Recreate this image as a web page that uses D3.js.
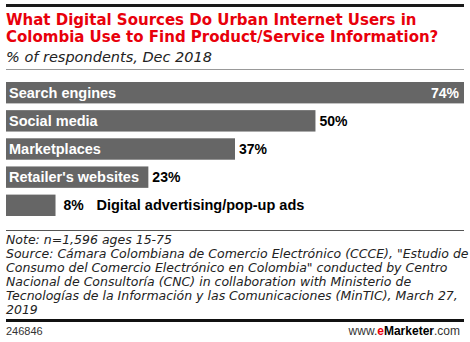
<!DOCTYPE html>
<html>
<head>
<meta charset="utf-8">
<script src="https://cdn.jsdelivr.net/npm/d3@7"></script>
<style>
  body { margin: 0; background: #fff; }
  svg { display: block; font-family: "Liberation Sans", Arial, sans-serif; }
</style>
</head>
<body>
<div id="chart"></div>
<script>
// Data
const categories = ["Search engines", "Social media", "Marketplaces", "Retailer's websites", "Digital advertising/pop-up ads"];
const values = [74, 50, 37, 23, 8];

const titleLines = [
    "What Digital Sources Do Urban Internet Users in",
    "Colombia Use to Find Product/Service Information?"
];
const subtitle = "% of respondents, Dec 2018";
const noteLines = [
    "Note: n=1,596 ages 15-75",
    "Source: Cámara Colombiana de Comercio Electrónico (CCCE), \"Estudio de",
    "Consumo del Comercio Electrónico en Colombia\" conducted by Centro",
    "Nacional de Consultoría (CNC) in collaboration with Ministerio de",
    "Tecnologías de la Información y las Comunicaciones (MinTIC), March 27,",
    "2019"
];
const chartId = "246846";

const data = categories.map((c, i) => ({ label: c, value: values[i] }));

const W = 470;
const H = 342;
const left = 6;
const right = 464;
const wide = "'DejaVu Sans', Verdana, sans-serif";

const svg = d3.select("#chart")
    .append("svg")
    .attr("width", W)
    .attr("height", H);

// Header
svg.append("rect")
    .attr("x", left).attr("y", 4)
    .attr("width", right - left).attr("height", 3)
    .attr("fill", "#1a1a1a");

svg.selectAll("text.title")
    .data(titleLines)
    .join("text")
    .attr("class", "title")
    .attr("x", left)
    .attr("y", (d, i) => 25 + i * 17)
    .attr("fill", "#e8000b")
    .attr("font-family", wide)
    .attr("font-size", 15)
    .attr("font-weight", "bold")
    .text(d => d);

svg.append("text")
    .attr("x", left)
    .attr("y", 62)
    .attr("font-family", wide)
    .attr("font-size", 14.5)
    .attr("font-style", "italic")
    .attr("fill", "#222")
    .text(subtitle);

svg.append("rect")
    .attr("x", left).attr("y", 69)
    .attr("width", right - left).attr("height", 1)
    .attr("fill", "#999");

// Scales
const xScale = d3.scaleLinear()
    .domain([0, d3.max(values)])
    .range([left, right]);

const yScale = d3.scaleBand()
    .domain(categories)
    .range([82, 216])
    .paddingInner(0.24)
    .paddingOuter(0);

const bars = svg.append("g");

bars.selectAll("rect")
    .data(data)
    .join("rect")
    .attr("x", xScale(0))
    .attr("y", d => yScale(d.label))
    .attr("width", d => xScale(d.value) - xScale(0))
    .attr("height", yScale.bandwidth())
    .attr("fill", "#666");

// short bars get their label outside
const fits = d => d.value >= 20;
const maxVal = d3.max(values);

bars.selectAll("text.cat")
    .data(data)
    .join("text")
    .attr("class", "cat")
    .attr("x", d => fits(d) ? xScale(0) + 3 : xScale(d.value) + 41)
    .attr("y", d => yScale(d.label) + yScale.bandwidth() / 2 + 5)
    .attr("font-size", 14.5)
    .attr("font-weight", "bold")
    .attr("fill", d => fits(d) ? "#fff" : "#000")
    .text(d => d.label);

bars.selectAll("text.val")
    .data(data)
    .join("text")
    .attr("class", "val")
    .attr("x", d => d.value === maxVal ? xScale(d.value) - 5 : xScale(d.value) + (fits(d) ? 4 : 8))
    .attr("y", d => yScale(d.label) + yScale.bandwidth() / 2 + 5)
    .attr("text-anchor", d => d.value === maxVal ? "end" : "start")
    .attr("font-size", 14)
    .attr("font-weight", "bold")
    .attr("fill", d => d.value === maxVal ? "#fff" : "#000")
    .text(d => d.value + "%");

// Footer
svg.append("rect")
    .attr("x", left).attr("y", 230)
    .attr("width", right - left).attr("height", 1)
    .attr("fill", "#555");

svg.selectAll("text.note")
    .data(noteLines)
    .join("text")
    .attr("class", "note")
    .attr("x", left)
    .attr("y", (d, i) => 244 + i * 14)
    .attr("font-family", wide)
    .attr("font-size", 12.5)
    .attr("font-style", "italic")
    .attr("fill", "#222")
    .text(d => d);

svg.append("rect")
    .attr("x", left).attr("y", 319)
    .attr("width", right - left).attr("height", 3)
    .attr("fill", "#111");

svg.append("text")
    .attr("x", left)
    .attr("y", 335)
    .attr("font-size", 11)
    .attr("fill", "#333")
    .text(chartId);

const brand = svg.append("text")
    .attr("x", right - 4)
    .attr("y", 335)
    .attr("text-anchor", "end")
    .attr("font-size", 12)
    .attr("fill", "#333");
brand.append("tspan").text("www.");
brand.append("tspan").attr("fill", "#e8000b").attr("font-weight", "bold").text("e");
brand.append("tspan").attr("fill", "#000").attr("font-weight", "bold").text("Marketer");
brand.append("tspan").text(".com");
</script>
</body>
</html>
